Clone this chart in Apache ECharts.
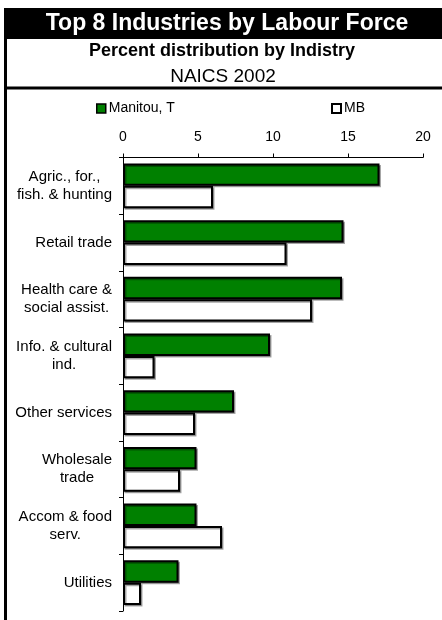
<!DOCTYPE html>
<html><head><meta charset="utf-8">
<script src="https://cdn.jsdelivr.net/npm/echarts@6/dist/echarts.min.js"></script>
<style>html,body{margin:0;padding:0;background:#fff}#c{width:442px;height:620px}</style>
</head><body><div id="c"></div>
<script>
const categories = ["Agric., for.,\nfish. & hunting","Retail trade","Health care &\nsocial assist.","Info. & cultural\nind.","Other services","Wholesale\ntrade","Accom & food\nserv.","Utilities"];
const manitou = [17.1,14.7,14.6,9.8,7.4,4.9,4.9,3.7];
const mb = [6.0,10.9,12.6,2.1,4.8,3.8,6.6,1.2];
const xTicks = [0,20,5];
const titleText = "Top 8 Industries by Labour Force";
const subText = "Percent distribution by Indistry";
const subText2 = "NAICS 2002";
const F = "'Liberation Sans', Arial, sans-serif";
const chart = echarts.init(document.getElementById('c'), null, {renderer:'canvas'});
const barShadow = {shadowColor:'rgba(0,0,0,0.35)', shadowOffsetX:1.5, shadowOffsetY:1.5, shadowBlur:0};
chart.setOption({
  animation:false,
  backgroundColor:'#fff',
  textStyle:{fontFamily:F},
  graphic:[
    {type:'rect', shape:{x:4,y:8,width:440,height:31}, style:{fill:'#000'}},
    {type:'line', shape:{x1:4,y1:88,x2:442,y2:88}, style:{stroke:'#000',lineWidth:3}},
    {type:'line', shape:{x1:5.5,y1:8,x2:5.5,y2:620}, style:{stroke:'#000',lineWidth:3}},
    {type:'text', x:227, y:24, style:{text:titleText, fill:'#fff', font:"bold 23px "+F, textAlign:'center', textVerticalAlign:'middle'}},
    {type:'text', x:222, y:51.5, style:{text:subText, fill:'#000', font:"bold 18px "+F, textAlign:'center', textVerticalAlign:'middle'}},
    {type:'text', x:223, y:76.5, style:{text:subText2, fill:'#000', font:"19px "+F, textAlign:'center', textVerticalAlign:'middle'}}
  ],
  legend:[
    {data:['Manitou, T'], left:96, top:101.5, padding:0, itemWidth:9, itemHeight:9, icon:'rect',
     textStyle:{fontFamily:F, fontSize:14, color:'#000', padding:[0,0,0,-2]},
     itemStyle:{borderColor:'#000', borderWidth:1.5, shadowColor:'transparent'}},
    {data:['MB'], left:331, top:101.5, padding:0, itemWidth:9, itemHeight:9, icon:'rect',
     textStyle:{fontFamily:F, fontSize:14, color:'#000', padding:[0,0,0,-2]},
     itemStyle:{borderColor:'#000', borderWidth:2, shadowColor:'transparent'}}
  ],
  grid:{left:123, right:19, top:157.5, bottom:9, containLabel:false},
  xAxis:{
    type:'value', position:'top', min:xTicks[0], max:xTicks[1], interval:xTicks[2],
    axisLine:{show:true, lineStyle:{color:'#000', width:1}},
    axisTick:{show:true, length:4, lineStyle:{color:'#000'}},
    axisLabel:{fontFamily:F, fontSize:14, color:'#000', margin:13},
    splitLine:{show:false}
  },
  yAxis:{
    type:'category', data:categories, inverse:true,
    axisLine:{show:true, lineStyle:{color:'#000', width:1}},
    axisTick:{show:true, length:4, lineStyle:{color:'#000'}},
    axisLabel:{
      margin:11, align:'right',
      formatter: v => v.split('\n').map(s => '{c|' + s + '}').join('\n'),
      rich:{c:{align:'center', fontFamily:F, fontSize:15, color:'#000', lineHeight:18}}
    },
    splitLine:{show:false}
  },
  series:[
    {name:'Manitou, T', type:'bar', data:manitou, barGap:'0%', barCategoryGap:'21%',
     itemStyle:Object.assign({color:'#008000', borderColor:'#000', borderWidth:2}, barShadow)},
    {name:'MB', type:'bar', data:mb, barGap:'0%', barCategoryGap:'21%',
     itemStyle:Object.assign({color:'#fff', borderColor:'#000', borderWidth:2}, barShadow)}
  ]
});
</script></body></html>
